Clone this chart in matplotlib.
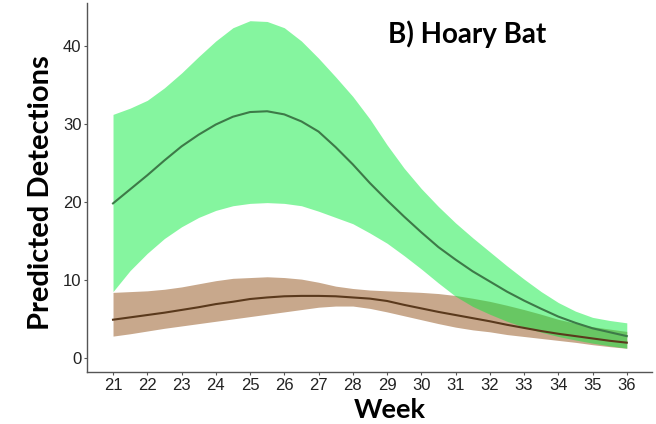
import numpy as np
import matplotlib
matplotlib.use("Agg")
import matplotlib.pyplot as plt

weeks = np.arange(21, 36.01, 0.5)

# Hoary bat, green model
green_mean = [19.8, 21.6, 23.4, 25.3, 27.1, 28.6, 29.9, 30.9, 31.5, 31.6, 31.2,
              30.3, 29.0, 27.0, 24.8, 22.4, 20.2, 18.1, 16.1, 14.2, 12.6, 11.1,
              9.8, 8.5, 7.35, 6.3, 5.3, 4.5, 3.8, 3.3, 2.8]
green_upper = [31.2, 32.0, 33.0, 34.6, 36.5, 38.6, 40.6, 42.3, 43.2, 43.1, 42.3,
               40.6, 38.4, 36.0, 33.5, 30.6, 27.3, 24.3, 21.7, 19.4, 17.3, 15.4,
               13.6, 11.8, 10.1, 8.5, 7.1, 6.0, 5.2, 4.8, 4.5]
green_lower = [8.5, 11.2, 13.4, 15.3, 16.8, 18.0, 18.9, 19.5, 19.8, 19.9, 19.8,
               19.5, 18.8, 18.0, 17.2, 16.0, 14.7, 13.1, 11.4, 9.6, 7.9, 6.6,
               5.6, 4.7, 3.95, 3.3, 2.75, 2.3, 1.9, 1.55, 1.25]

# brown model
brown_mean = [4.9, 5.2, 5.5, 5.8, 6.15, 6.5, 6.9, 7.2, 7.55, 7.75, 7.9, 7.95,
              7.95, 7.9, 7.75, 7.6, 7.3, 6.8, 6.35, 5.9, 5.5, 5.1, 4.7, 4.25,
              3.85, 3.45, 3.1, 2.8, 2.5, 2.2, 1.96]
brown_upper = [8.4, 8.5, 8.6, 8.8, 9.1, 9.5, 9.9, 10.2, 10.3, 10.4, 10.3, 10.1,
               9.7, 9.2, 8.9, 8.7, 8.6, 8.5, 8.4, 8.25, 8.0, 7.65, 7.25, 6.75,
               6.2, 5.6, 4.95, 4.45, 4.0, 3.7, 3.4]
brown_lower = [2.8, 3.1, 3.45, 3.8, 4.1, 4.4, 4.7, 5.0, 5.3, 5.6, 5.9, 6.2, 6.5,
               6.65, 6.65, 6.35, 5.9, 5.4, 4.9, 4.4, 3.95, 3.6, 3.35, 3.0, 2.75,
               2.5, 2.25, 2.0, 1.7, 1.45, 1.24]

xticks = list(range(21, 37))
yticks = [0, 10, 20, 30, 40]

fig = plt.figure(figsize=(6.56, 4.24), dpi=100)
ax = fig.add_axes([0.1326, 0.1226, 0.861, 0.870])

ax.fill_between(weeks, brown_lower, brown_upper, color="#c8a88c", lw=0)
ax.fill_between(weeks, green_lower, green_upper, color=(0.0, 0.92, 0.22), alpha=0.48, lw=0)
ax.plot(weeks, green_mean, color="#3d7a48", lw=1.5)
ax.plot(weeks, brown_mean, color="#5a391c", lw=1.5)

ax.set_xlim(20.24, 36.73)
ax.set_ylim(-1.8, 45.45)
ax.set_xticks(xticks)
ax.set_yticks(yticks)
ax.tick_params(length=2.5, width=0.8, color="#555555", labelcolor="#222222",
               labelsize=12, pad=1.5)
for lab in ax.get_xticklabels() + ax.get_yticklabels():
    lab.set_family("Liberation Sans")

for s in ["top", "right"]:
    ax.spines[s].set_visible(False)
for s in ["left", "bottom"]:
    ax.spines[s].set_color("#555555")
    ax.spines[s].set_linewidth(1.0)

ax.set_xlabel("Week", family="Lato", weight="bold", fontsize=19.5)
ax.xaxis.set_label_coords(0.536, -0.07)
ax.set_ylabel("Predicted Detections", family="Lato", weight="bold", fontsize=21)
ax.yaxis.set_label_coords(-0.058, 0.485)

ax.text(31.34, 41.5, "B) Hoary Bat", family="Lato", weight="bold", fontsize=20,
        ha="center", va="center")

fig.savefig("out.png", dpi=100)
